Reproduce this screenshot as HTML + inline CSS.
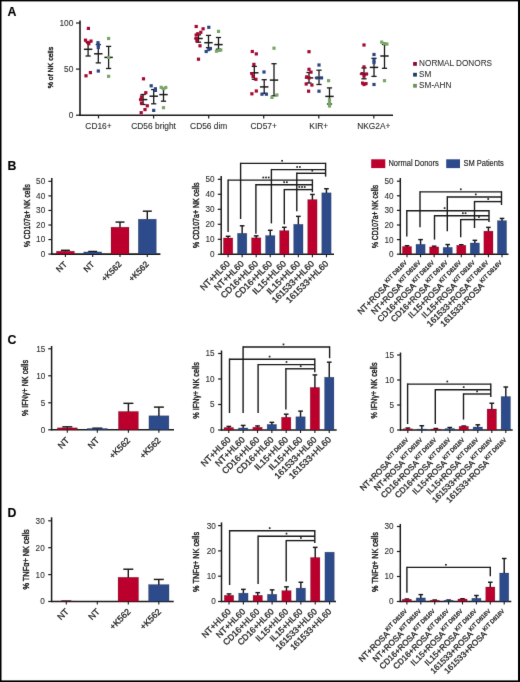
<!DOCTYPE html>
<html><head><meta charset="utf-8"><style>
html,body{margin:0;padding:0;background:#fff;}
svg{display:block;font-family:"Liberation Sans", sans-serif;}
text{stroke:#2a2a2a;stroke-width:0.16px;}
</style></head><body>
<svg width="520" height="682" viewBox="0 0 520 682">
<defs><filter id="soft" filterUnits="userSpaceOnUse" x="-10" y="-10" width="540" height="702" color-interpolation-filters="sRGB"><feConvolveMatrix order="3" kernelMatrix="0.00524 0.06192 0.00524 0.06192 0.73137 0.06192 0.00524 0.06192 0.00524" divisor="1" edgeMode="duplicate"/></filter></defs>
<rect x="0" y="0" width="520" height="682" fill="#fff"/>
<g filter="url(#soft)">
<rect x="-6" y="-6" width="532" height="7.4" fill="#000"/>
<rect x="-6" y="680.4" width="532" height="7.6" fill="#000"/>
<rect x="-6" y="-6" width="7.5" height="694" fill="#000"/>
<rect x="518" y="-6" width="8" height="694" fill="#000"/>
<text x="7.6" y="16.2" font-size="12.3" text-anchor="start" fill="#000" font-weight="bold" >A</text>
<text x="7.6" y="169.8" font-size="12.3" text-anchor="start" fill="#000" font-weight="bold" >B</text>
<text x="7.6" y="343.8" font-size="12.3" text-anchor="start" fill="#000" font-weight="bold" >C</text>
<text x="7.6" y="517.3" font-size="12.3" text-anchor="start" fill="#000" font-weight="bold" >D</text>
<line x1="80" y1="20.5" x2="80" y2="115.9" stroke="#1a1a1a" stroke-width="1.6"/>
<line x1="79.3" y1="115.2" x2="393" y2="115.2" stroke="#1a1a1a" stroke-width="1.6"/>
<line x1="76" y1="115.2" x2="80" y2="115.2" stroke="#1a1a1a" stroke-width="1.2"/>
<text x="73.4" y="118.2" font-size="8.4" text-anchor="end" fill="#303030" font-weight="normal" style="stroke:#303030;stroke-width:0.1px">0</text>
<line x1="76" y1="69.1" x2="80" y2="69.1" stroke="#1a1a1a" stroke-width="1.2"/>
<text x="73.4" y="72.1" font-size="8.4" text-anchor="end" fill="#303030" font-weight="normal" style="stroke:#303030;stroke-width:0.1px">50</text>
<line x1="76" y1="23" x2="80" y2="23" stroke="#1a1a1a" stroke-width="1.2"/>
<text x="73.4" y="26" font-size="8.4" text-anchor="end" fill="#303030" font-weight="normal" style="stroke:#303030;stroke-width:0.1px">100</text>
<text transform="translate(53.0,67.6) rotate(-90)" font-size="7.6" text-anchor="middle" fill="#222" style="stroke:#1e1e1e;stroke-width:0.42px" textLength="41.5" lengthAdjust="spacingAndGlyphs">% of NK cells</text>
<line x1="98.5" y1="115.2" x2="98.5" y2="118.4" stroke="#1a1a1a" stroke-width="1.2"/>
<text x="98.5" y="129.2" font-size="8.4" text-anchor="middle" fill="#2a2a2a" font-weight="normal" style="stroke-width:0.08px">CD16+</text>
<line x1="153.6" y1="115.2" x2="153.6" y2="118.4" stroke="#1a1a1a" stroke-width="1.2"/>
<text x="153.6" y="129.2" font-size="8.4" text-anchor="middle" fill="#2a2a2a" font-weight="normal" style="stroke-width:0.08px">CD56 bright</text>
<line x1="208.7" y1="115.2" x2="208.7" y2="118.4" stroke="#1a1a1a" stroke-width="1.2"/>
<text x="208.7" y="129.2" font-size="8.4" text-anchor="middle" fill="#2a2a2a" font-weight="normal" style="stroke-width:0.08px">CD56 dim</text>
<line x1="263.7" y1="115.2" x2="263.7" y2="118.4" stroke="#1a1a1a" stroke-width="1.2"/>
<text x="263.7" y="129.2" font-size="8.4" text-anchor="middle" fill="#2a2a2a" font-weight="normal" style="stroke-width:0.08px">CD57+</text>
<line x1="318.8" y1="115.2" x2="318.8" y2="118.4" stroke="#1a1a1a" stroke-width="1.2"/>
<text x="318.8" y="129.2" font-size="8.4" text-anchor="middle" fill="#2a2a2a" font-weight="normal" style="stroke-width:0.08px">KIR+</text>
<line x1="373.8" y1="115.2" x2="373.8" y2="118.4" stroke="#1a1a1a" stroke-width="1.2"/>
<text x="373.8" y="129.2" font-size="8.4" text-anchor="middle" fill="#2a2a2a" font-weight="normal" style="stroke-width:0.08px">NKG2A+</text>
<line x1="88.1" y1="42.4" x2="88.1" y2="56" stroke="#1a1a1a" stroke-width="1.3"/>
<line x1="85.5" y1="42.4" x2="90.7" y2="42.4" stroke="#1a1a1a" stroke-width="1.3"/>
<line x1="85.5" y1="56" x2="90.7" y2="56" stroke="#1a1a1a" stroke-width="1.3"/>
<line x1="83.9" y1="49.3" x2="92.3" y2="49.3" stroke="#1a1a1a" stroke-width="1.5"/>
<line x1="98.3" y1="44.6" x2="98.3" y2="62.9" stroke="#1a1a1a" stroke-width="1.3"/>
<line x1="95.7" y1="44.6" x2="100.9" y2="44.6" stroke="#1a1a1a" stroke-width="1.3"/>
<line x1="95.7" y1="62.9" x2="100.9" y2="62.9" stroke="#1a1a1a" stroke-width="1.3"/>
<line x1="94.1" y1="53.8" x2="102.5" y2="53.8" stroke="#1a1a1a" stroke-width="1.5"/>
<line x1="108.6" y1="46.4" x2="108.6" y2="68.5" stroke="#1a1a1a" stroke-width="1.3"/>
<line x1="106" y1="46.4" x2="111.2" y2="46.4" stroke="#1a1a1a" stroke-width="1.3"/>
<line x1="106" y1="68.5" x2="111.2" y2="68.5" stroke="#1a1a1a" stroke-width="1.3"/>
<line x1="104.4" y1="57.4" x2="112.8" y2="57.4" stroke="#1a1a1a" stroke-width="1.5"/>
<line x1="143.1" y1="94.5" x2="143.1" y2="104.5" stroke="#1a1a1a" stroke-width="1.3"/>
<line x1="140.5" y1="94.5" x2="145.7" y2="94.5" stroke="#1a1a1a" stroke-width="1.3"/>
<line x1="140.5" y1="104.5" x2="145.7" y2="104.5" stroke="#1a1a1a" stroke-width="1.3"/>
<line x1="138.9" y1="99.6" x2="147.3" y2="99.6" stroke="#1a1a1a" stroke-width="1.5"/>
<line x1="153.7" y1="89.6" x2="153.7" y2="103.8" stroke="#1a1a1a" stroke-width="1.3"/>
<line x1="151.1" y1="89.6" x2="156.3" y2="89.6" stroke="#1a1a1a" stroke-width="1.3"/>
<line x1="151.1" y1="103.8" x2="156.3" y2="103.8" stroke="#1a1a1a" stroke-width="1.3"/>
<line x1="149.5" y1="96.2" x2="157.9" y2="96.2" stroke="#1a1a1a" stroke-width="1.5"/>
<line x1="163.5" y1="88.5" x2="163.5" y2="101.2" stroke="#1a1a1a" stroke-width="1.3"/>
<line x1="160.9" y1="88.5" x2="166.1" y2="88.5" stroke="#1a1a1a" stroke-width="1.3"/>
<line x1="160.9" y1="101.2" x2="166.1" y2="101.2" stroke="#1a1a1a" stroke-width="1.3"/>
<line x1="159.3" y1="94.6" x2="167.7" y2="94.6" stroke="#1a1a1a" stroke-width="1.5"/>
<line x1="198.5" y1="34.8" x2="198.5" y2="42.2" stroke="#1a1a1a" stroke-width="1.3"/>
<line x1="195.9" y1="34.8" x2="201.1" y2="34.8" stroke="#1a1a1a" stroke-width="1.3"/>
<line x1="195.9" y1="42.2" x2="201.1" y2="42.2" stroke="#1a1a1a" stroke-width="1.3"/>
<line x1="194.3" y1="38.5" x2="202.7" y2="38.5" stroke="#1a1a1a" stroke-width="1.5"/>
<line x1="208.5" y1="35.4" x2="208.5" y2="47.7" stroke="#1a1a1a" stroke-width="1.3"/>
<line x1="205.9" y1="35.4" x2="211.1" y2="35.4" stroke="#1a1a1a" stroke-width="1.3"/>
<line x1="205.9" y1="47.7" x2="211.1" y2="47.7" stroke="#1a1a1a" stroke-width="1.3"/>
<line x1="204.3" y1="42.7" x2="212.7" y2="42.7" stroke="#1a1a1a" stroke-width="1.5"/>
<line x1="218.5" y1="37.5" x2="218.5" y2="49.2" stroke="#1a1a1a" stroke-width="1.3"/>
<line x1="215.9" y1="37.5" x2="221.1" y2="37.5" stroke="#1a1a1a" stroke-width="1.3"/>
<line x1="215.9" y1="49.2" x2="221.1" y2="49.2" stroke="#1a1a1a" stroke-width="1.3"/>
<line x1="214.3" y1="44.6" x2="222.7" y2="44.6" stroke="#1a1a1a" stroke-width="1.5"/>
<line x1="254.3" y1="66.4" x2="254.3" y2="79.3" stroke="#1a1a1a" stroke-width="1.3"/>
<line x1="251.7" y1="66.4" x2="256.9" y2="66.4" stroke="#1a1a1a" stroke-width="1.3"/>
<line x1="251.7" y1="79.3" x2="256.9" y2="79.3" stroke="#1a1a1a" stroke-width="1.3"/>
<line x1="250.1" y1="72.8" x2="258.5" y2="72.8" stroke="#1a1a1a" stroke-width="1.5"/>
<line x1="264.2" y1="79.7" x2="264.2" y2="93.4" stroke="#1a1a1a" stroke-width="1.3"/>
<line x1="261.6" y1="79.7" x2="266.8" y2="79.7" stroke="#1a1a1a" stroke-width="1.3"/>
<line x1="261.6" y1="93.4" x2="266.8" y2="93.4" stroke="#1a1a1a" stroke-width="1.3"/>
<line x1="260" y1="86.9" x2="268.4" y2="86.9" stroke="#1a1a1a" stroke-width="1.5"/>
<line x1="274" y1="63.7" x2="274" y2="95.8" stroke="#1a1a1a" stroke-width="1.3"/>
<line x1="271.4" y1="63.7" x2="276.6" y2="63.7" stroke="#1a1a1a" stroke-width="1.3"/>
<line x1="271.4" y1="95.8" x2="276.6" y2="95.8" stroke="#1a1a1a" stroke-width="1.3"/>
<line x1="269.8" y1="80.1" x2="278.2" y2="80.1" stroke="#1a1a1a" stroke-width="1.5"/>
<line x1="309" y1="72.5" x2="309" y2="83" stroke="#1a1a1a" stroke-width="1.3"/>
<line x1="306.4" y1="72.5" x2="311.6" y2="72.5" stroke="#1a1a1a" stroke-width="1.3"/>
<line x1="306.4" y1="83" x2="311.6" y2="83" stroke="#1a1a1a" stroke-width="1.3"/>
<line x1="304.8" y1="77.9" x2="313.2" y2="77.9" stroke="#1a1a1a" stroke-width="1.5"/>
<line x1="319" y1="70.2" x2="319" y2="84.5" stroke="#1a1a1a" stroke-width="1.3"/>
<line x1="316.4" y1="70.2" x2="321.6" y2="70.2" stroke="#1a1a1a" stroke-width="1.3"/>
<line x1="316.4" y1="84.5" x2="321.6" y2="84.5" stroke="#1a1a1a" stroke-width="1.3"/>
<line x1="314.8" y1="77.9" x2="323.2" y2="77.9" stroke="#1a1a1a" stroke-width="1.5"/>
<line x1="329.5" y1="87.9" x2="329.5" y2="104" stroke="#1a1a1a" stroke-width="1.3"/>
<line x1="326.9" y1="87.9" x2="332.1" y2="87.9" stroke="#1a1a1a" stroke-width="1.3"/>
<line x1="326.9" y1="104" x2="332.1" y2="104" stroke="#1a1a1a" stroke-width="1.3"/>
<line x1="325.3" y1="96.4" x2="333.7" y2="96.4" stroke="#1a1a1a" stroke-width="1.5"/>
<line x1="364" y1="67.9" x2="364" y2="78.8" stroke="#1a1a1a" stroke-width="1.3"/>
<line x1="361.4" y1="67.9" x2="366.6" y2="67.9" stroke="#1a1a1a" stroke-width="1.3"/>
<line x1="361.4" y1="78.8" x2="366.6" y2="78.8" stroke="#1a1a1a" stroke-width="1.3"/>
<line x1="359.8" y1="74" x2="368.2" y2="74" stroke="#1a1a1a" stroke-width="1.5"/>
<line x1="374" y1="58.3" x2="374" y2="76.4" stroke="#1a1a1a" stroke-width="1.3"/>
<line x1="371.4" y1="58.3" x2="376.6" y2="58.3" stroke="#1a1a1a" stroke-width="1.3"/>
<line x1="371.4" y1="76.4" x2="376.6" y2="76.4" stroke="#1a1a1a" stroke-width="1.3"/>
<line x1="369.8" y1="67.4" x2="378.2" y2="67.4" stroke="#1a1a1a" stroke-width="1.5"/>
<line x1="384.5" y1="44.5" x2="384.5" y2="68.3" stroke="#1a1a1a" stroke-width="1.3"/>
<line x1="381.9" y1="44.5" x2="387.1" y2="44.5" stroke="#1a1a1a" stroke-width="1.3"/>
<line x1="381.9" y1="68.3" x2="387.1" y2="68.3" stroke="#1a1a1a" stroke-width="1.3"/>
<line x1="380.3" y1="56" x2="388.7" y2="56" stroke="#1a1a1a" stroke-width="1.5"/>
<rect x="86.8" y="26.8" width="3.2" height="3.2" fill="#a5072f"/>
<rect x="83.9" y="38.6" width="3.2" height="3.2" fill="#a5072f"/>
<rect x="86.3" y="40.8" width="3.2" height="3.2" fill="#a5072f"/>
<rect x="89.4" y="39.5" width="3.2" height="3.2" fill="#a5072f"/>
<rect x="87.2" y="42.1" width="3.2" height="3.2" fill="#a5072f"/>
<rect x="88.8" y="71" width="3.2" height="3.2" fill="#a5072f"/>
<rect x="84.4" y="74.2" width="3.2" height="3.2" fill="#a5072f"/>
<rect x="141.9" y="77.2" width="3.2" height="3.2" fill="#a5072f"/>
<rect x="144.2" y="91.1" width="3.2" height="3.2" fill="#a5072f"/>
<rect x="139.9" y="95.3" width="3.2" height="3.2" fill="#a5072f"/>
<rect x="139.2" y="98" width="3.2" height="3.2" fill="#a5072f"/>
<rect x="139.9" y="101.5" width="3.2" height="3.2" fill="#a5072f"/>
<rect x="145.7" y="104.2" width="3.2" height="3.2" fill="#a5072f"/>
<rect x="143.4" y="108" width="3.2" height="3.2" fill="#a5072f"/>
<rect x="139.6" y="111.1" width="3.2" height="3.2" fill="#a5072f"/>
<rect x="194.6" y="24.9" width="3.2" height="3.2" fill="#a5072f"/>
<rect x="201.5" y="27.2" width="3.2" height="3.2" fill="#a5072f"/>
<rect x="199.2" y="30.7" width="3.2" height="3.2" fill="#a5072f"/>
<rect x="194.6" y="33.4" width="3.2" height="3.2" fill="#a5072f"/>
<rect x="196.1" y="32.2" width="3.2" height="3.2" fill="#a5072f"/>
<rect x="194.6" y="36.9" width="3.2" height="3.2" fill="#a5072f"/>
<rect x="195.3" y="39.2" width="3.2" height="3.2" fill="#a5072f"/>
<rect x="198.4" y="44.2" width="3.2" height="3.2" fill="#a5072f"/>
<rect x="196.9" y="57.6" width="3.2" height="3.2" fill="#a5072f"/>
<rect x="250.7" y="49.9" width="3.2" height="3.2" fill="#a5072f"/>
<rect x="254.7" y="52.3" width="3.2" height="3.2" fill="#a5072f"/>
<rect x="252.3" y="62.8" width="3.2" height="3.2" fill="#a5072f"/>
<rect x="250.3" y="72" width="3.2" height="3.2" fill="#a5072f"/>
<rect x="251.5" y="74.9" width="3.2" height="3.2" fill="#a5072f"/>
<rect x="254.3" y="77.7" width="3.2" height="3.2" fill="#a5072f"/>
<rect x="250.3" y="92.2" width="3.2" height="3.2" fill="#a5072f"/>
<rect x="254.7" y="89.4" width="3.2" height="3.2" fill="#a5072f"/>
<rect x="307.4" y="50.1" width="3.2" height="3.2" fill="#a5072f"/>
<rect x="307.4" y="67.7" width="3.2" height="3.2" fill="#a5072f"/>
<rect x="309.4" y="70.5" width="3.2" height="3.2" fill="#a5072f"/>
<rect x="305.1" y="75.3" width="3.2" height="3.2" fill="#a5072f"/>
<rect x="307.4" y="76.3" width="3.2" height="3.2" fill="#a5072f"/>
<rect x="304.6" y="82.4" width="3.2" height="3.2" fill="#a5072f"/>
<rect x="310.3" y="83.4" width="3.2" height="3.2" fill="#a5072f"/>
<rect x="307" y="89.6" width="3.2" height="3.2" fill="#a5072f"/>
<rect x="362.4" y="43.4" width="3.2" height="3.2" fill="#a5072f"/>
<rect x="362.4" y="65.3" width="3.2" height="3.2" fill="#a5072f"/>
<rect x="360.5" y="72" width="3.2" height="3.2" fill="#a5072f"/>
<rect x="364.8" y="72.4" width="3.2" height="3.2" fill="#a5072f"/>
<rect x="362.4" y="74.4" width="3.2" height="3.2" fill="#a5072f"/>
<rect x="361" y="81.5" width="3.2" height="3.2" fill="#a5072f"/>
<rect x="364.4" y="82" width="3.2" height="3.2" fill="#a5072f"/>
<rect x="362.4" y="82.9" width="3.2" height="3.2" fill="#a5072f"/>
<rect x="96.4" y="41.1" width="3.2" height="3.2" fill="#2a4581"/>
<rect x="96.7" y="43.4" width="3.2" height="3.2" fill="#2a4581"/>
<rect x="96.7" y="45.9" width="3.2" height="3.2" fill="#2a4581"/>
<rect x="96.7" y="69.4" width="3.2" height="3.2" fill="#2a4581"/>
<rect x="149.6" y="84.2" width="3.2" height="3.2" fill="#2a4581"/>
<rect x="153.8" y="87.2" width="3.2" height="3.2" fill="#2a4581"/>
<rect x="153.8" y="88.8" width="3.2" height="3.2" fill="#2a4581"/>
<rect x="152.1" y="108.8" width="3.2" height="3.2" fill="#2a4581"/>
<rect x="207.2" y="25.7" width="3.2" height="3.2" fill="#2a4581"/>
<rect x="208.8" y="46.9" width="3.2" height="3.2" fill="#2a4581"/>
<rect x="207.2" y="48" width="3.2" height="3.2" fill="#2a4581"/>
<rect x="204.6" y="49.9" width="3.2" height="3.2" fill="#2a4581"/>
<rect x="262.4" y="70.4" width="3.2" height="3.2" fill="#2a4581"/>
<rect x="260.4" y="92.6" width="3.2" height="3.2" fill="#2a4581"/>
<rect x="264.8" y="92.6" width="3.2" height="3.2" fill="#2a4581"/>
<rect x="317.4" y="63.4" width="3.2" height="3.2" fill="#2a4581"/>
<rect x="315.5" y="76.3" width="3.2" height="3.2" fill="#2a4581"/>
<rect x="319.8" y="76.3" width="3.2" height="3.2" fill="#2a4581"/>
<rect x="317.4" y="89.6" width="3.2" height="3.2" fill="#2a4581"/>
<rect x="372.4" y="52.9" width="3.2" height="3.2" fill="#2a4581"/>
<rect x="372.4" y="58.6" width="3.2" height="3.2" fill="#2a4581"/>
<rect x="372.4" y="61" width="3.2" height="3.2" fill="#2a4581"/>
<rect x="372.4" y="82.9" width="3.2" height="3.2" fill="#2a4581"/>
<rect x="107" y="36.9" width="3.2" height="3.2" fill="#7aa566"/>
<rect x="107" y="55.8" width="3.2" height="3.2" fill="#7aa566"/>
<rect x="107" y="74.7" width="3.2" height="3.2" fill="#7aa566"/>
<rect x="159.6" y="85.7" width="3.2" height="3.2" fill="#7aa566"/>
<rect x="164.2" y="85.9" width="3.2" height="3.2" fill="#7aa566"/>
<rect x="161.9" y="87.2" width="3.2" height="3.2" fill="#7aa566"/>
<rect x="161.9" y="106.1" width="3.2" height="3.2" fill="#7aa566"/>
<rect x="216.9" y="29.8" width="3.2" height="3.2" fill="#7aa566"/>
<rect x="214.9" y="49.6" width="3.2" height="3.2" fill="#7aa566"/>
<rect x="217.6" y="48.8" width="3.2" height="3.2" fill="#7aa566"/>
<rect x="219.2" y="48.4" width="3.2" height="3.2" fill="#7aa566"/>
<rect x="272.4" y="46.6" width="3.2" height="3.2" fill="#7aa566"/>
<rect x="270.4" y="95.8" width="3.2" height="3.2" fill="#7aa566"/>
<rect x="275.3" y="93.4" width="3.2" height="3.2" fill="#7aa566"/>
<rect x="327" y="79.1" width="3.2" height="3.2" fill="#7aa566"/>
<rect x="327.9" y="98.2" width="3.2" height="3.2" fill="#7aa566"/>
<rect x="327.9" y="101.5" width="3.2" height="3.2" fill="#7aa566"/>
<rect x="327.9" y="104.4" width="3.2" height="3.2" fill="#7aa566"/>
<rect x="380.1" y="40.5" width="3.2" height="3.2" fill="#7aa566"/>
<rect x="385.3" y="42.4" width="3.2" height="3.2" fill="#7aa566"/>
<rect x="382.9" y="42" width="3.2" height="3.2" fill="#7aa566"/>
<rect x="382.9" y="79.1" width="3.2" height="3.2" fill="#7aa566"/>
<rect x="413.1" y="62" width="3.8" height="3.8" fill="#8e0a2c"/>
<text x="419.1" y="66.3" font-size="8.2" text-anchor="start" fill="#2a2a2a" font-weight="normal" style="stroke-width:0.05px">NORMAL DONORS</text>
<rect x="413.1" y="72.8" width="3.8" height="3.8" fill="#223d63"/>
<text x="419.1" y="77.1" font-size="8.2" text-anchor="start" fill="#2a2a2a" font-weight="normal" style="stroke-width:0.05px">SM</text>
<rect x="413.1" y="83.9" width="3.8" height="3.8" fill="#6f9160"/>
<text x="419.1" y="88.2" font-size="8.2" text-anchor="start" fill="#2a2a2a" font-weight="normal" style="stroke-width:0.05px">SM-AHN</text>
<line x1="51.8" y1="178" x2="51.8" y2="254.7" stroke="#1a1a1a" stroke-width="1.5"/>
<line x1="48.4" y1="254.1" x2="51.8" y2="254.1" stroke="#1a1a1a" stroke-width="1.2"/>
<text x="45.2" y="257" font-size="8.2" text-anchor="end" fill="#303030" font-weight="normal" style="stroke:#303030;stroke-width:0.1px">0</text>
<line x1="48.4" y1="239.55" x2="51.8" y2="239.55" stroke="#1a1a1a" stroke-width="1.2"/>
<text x="45.2" y="242.45" font-size="8.2" text-anchor="end" fill="#303030" font-weight="normal" style="stroke:#303030;stroke-width:0.1px">10</text>
<line x1="48.4" y1="225" x2="51.8" y2="225" stroke="#1a1a1a" stroke-width="1.2"/>
<text x="45.2" y="227.9" font-size="8.2" text-anchor="end" fill="#303030" font-weight="normal" style="stroke:#303030;stroke-width:0.1px">20</text>
<line x1="48.4" y1="210.45" x2="51.8" y2="210.45" stroke="#1a1a1a" stroke-width="1.2"/>
<text x="45.2" y="213.35" font-size="8.2" text-anchor="end" fill="#303030" font-weight="normal" style="stroke:#303030;stroke-width:0.1px">30</text>
<line x1="48.4" y1="195.9" x2="51.8" y2="195.9" stroke="#1a1a1a" stroke-width="1.2"/>
<text x="45.2" y="198.8" font-size="8.2" text-anchor="end" fill="#303030" font-weight="normal" style="stroke:#303030;stroke-width:0.1px">40</text>
<line x1="48.4" y1="181.35" x2="51.8" y2="181.35" stroke="#1a1a1a" stroke-width="1.2"/>
<text x="45.2" y="184.25" font-size="8.2" text-anchor="end" fill="#303030" font-weight="normal" style="stroke:#303030;stroke-width:0.1px">50</text>
<text transform="translate(29.72,215.6) rotate(-90)" font-size="8.4" text-anchor="middle" fill="#222" style="stroke:#1e1e1e;stroke-width:0.42px" textLength="63" lengthAdjust="spacingAndGlyphs">% CD107a+ NK cells</text>
<line x1="51.1" y1="254.1" x2="160.4" y2="254.1" stroke="#1a1a1a" stroke-width="1.6"/>
<line x1="65.4" y1="250.32" x2="65.4" y2="251.69" stroke="#1a1a1a" stroke-width="1.45"/>
<line x1="60.9" y1="250.32" x2="69.9" y2="250.32" stroke="#1a1a1a" stroke-width="1.45"/>
<rect x="56.4" y="251.19" width="18" height="2.91" fill="#bb002d" stroke="#000" stroke-opacity="0.28" stroke-width="0.6"/>
<line x1="65.4" y1="254.1" x2="65.4" y2="257.1" stroke="#1a1a1a" stroke-width="1.1"/>
<line x1="92.7" y1="251.48" x2="92.7" y2="252.42" stroke="#1a1a1a" stroke-width="1.45"/>
<line x1="88.2" y1="251.48" x2="97.2" y2="251.48" stroke="#1a1a1a" stroke-width="1.45"/>
<rect x="83.7" y="251.92" width="18" height="2.18" fill="#2d4b8a" stroke="#000" stroke-opacity="0.28" stroke-width="0.6"/>
<line x1="92.7" y1="254.1" x2="92.7" y2="257.1" stroke="#1a1a1a" stroke-width="1.1"/>
<line x1="120" y1="222.09" x2="120" y2="227.68" stroke="#1a1a1a" stroke-width="1.45"/>
<line x1="115.5" y1="222.09" x2="124.5" y2="222.09" stroke="#1a1a1a" stroke-width="1.45"/>
<rect x="111" y="227.18" width="18" height="26.92" fill="#bb002d" stroke="#000" stroke-opacity="0.28" stroke-width="0.6"/>
<line x1="120" y1="254.1" x2="120" y2="257.1" stroke="#1a1a1a" stroke-width="1.1"/>
<line x1="147.3" y1="211.18" x2="147.3" y2="219.68" stroke="#1a1a1a" stroke-width="1.45"/>
<line x1="142.8" y1="211.18" x2="151.8" y2="211.18" stroke="#1a1a1a" stroke-width="1.45"/>
<rect x="138.3" y="219.18" width="18" height="34.92" fill="#2d4b8a" stroke="#000" stroke-opacity="0.28" stroke-width="0.6"/>
<line x1="147.3" y1="254.1" x2="147.3" y2="257.1" stroke="#1a1a1a" stroke-width="1.1"/>
<text transform="translate(67.5,264.8) rotate(-45)" font-size="8.4" text-anchor="end" fill="#1e1e1e" style="stroke:#1e1e1e;stroke-width:0.3px">NT</text>
<text transform="translate(94.8,264.8) rotate(-45)" font-size="8.4" text-anchor="end" fill="#1e1e1e" style="stroke:#1e1e1e;stroke-width:0.3px">NT</text>
<text transform="translate(122.1,264.8) rotate(-45)" font-size="8.4" text-anchor="end" fill="#1e1e1e" style="stroke:#1e1e1e;stroke-width:0.3px">+K562</text>
<text transform="translate(149.4,264.8) rotate(-45)" font-size="8.4" text-anchor="end" fill="#1e1e1e" style="stroke:#1e1e1e;stroke-width:0.3px">+K562</text>
<line x1="221.2" y1="176.1" x2="221.2" y2="254.9" stroke="#1a1a1a" stroke-width="1.5"/>
<line x1="217.8" y1="254.3" x2="221.2" y2="254.3" stroke="#1a1a1a" stroke-width="1.2"/>
<text x="214.6" y="257.2" font-size="8.2" text-anchor="end" fill="#303030" font-weight="normal" style="stroke:#303030;stroke-width:0.1px">0</text>
<line x1="217.8" y1="239.3" x2="221.2" y2="239.3" stroke="#1a1a1a" stroke-width="1.2"/>
<text x="214.6" y="242.2" font-size="8.2" text-anchor="end" fill="#303030" font-weight="normal" style="stroke:#303030;stroke-width:0.1px">10</text>
<line x1="217.8" y1="224.3" x2="221.2" y2="224.3" stroke="#1a1a1a" stroke-width="1.2"/>
<text x="214.6" y="227.2" font-size="8.2" text-anchor="end" fill="#303030" font-weight="normal" style="stroke:#303030;stroke-width:0.1px">20</text>
<line x1="217.8" y1="209.3" x2="221.2" y2="209.3" stroke="#1a1a1a" stroke-width="1.2"/>
<text x="214.6" y="212.2" font-size="8.2" text-anchor="end" fill="#303030" font-weight="normal" style="stroke:#303030;stroke-width:0.1px">30</text>
<line x1="217.8" y1="194.3" x2="221.2" y2="194.3" stroke="#1a1a1a" stroke-width="1.2"/>
<text x="214.6" y="197.2" font-size="8.2" text-anchor="end" fill="#303030" font-weight="normal" style="stroke:#303030;stroke-width:0.1px">40</text>
<line x1="217.8" y1="179.3" x2="221.2" y2="179.3" stroke="#1a1a1a" stroke-width="1.2"/>
<text x="214.6" y="182.2" font-size="8.2" text-anchor="end" fill="#303030" font-weight="normal" style="stroke:#303030;stroke-width:0.1px">50</text>
<text transform="translate(198.5,215.2) rotate(-90)" font-size="8.6" text-anchor="middle" fill="#222" style="stroke:#1e1e1e;stroke-width:0.42px" textLength="65.4" lengthAdjust="spacingAndGlyphs">% CD107a+ NK cells</text>
<line x1="240.6" y1="163.4" x2="325.6" y2="163.4" stroke="#1a1a1a" stroke-width="1.4"/>
<line x1="240.6" y1="162.7" x2="240.6" y2="219" stroke="#1a1a1a" stroke-width="1.4"/>
<rect x="281.25" y="159.95" width="1.7" height="1.7" fill="#222"/>
<line x1="271.4" y1="169.6" x2="325.6" y2="169.6" stroke="#1a1a1a" stroke-width="1.4"/>
<line x1="271.4" y1="168.9" x2="271.4" y2="223.4" stroke="#1a1a1a" stroke-width="1.4"/>
<rect x="296.3" y="166.15" width="1.7" height="1.7" fill="#222"/>
<rect x="299" y="166.15" width="1.7" height="1.7" fill="#222"/>
<line x1="296.8" y1="173.3" x2="325.6" y2="173.3" stroke="#1a1a1a" stroke-width="1.4"/>
<line x1="296.8" y1="172.6" x2="296.8" y2="211.2" stroke="#1a1a1a" stroke-width="1.4"/>
<rect x="311.45" y="169.85" width="1.7" height="1.7" fill="#222"/>
<line x1="228.1" y1="180.1" x2="312.4" y2="180.1" stroke="#1a1a1a" stroke-width="1.4"/>
<line x1="228.1" y1="179.4" x2="228.1" y2="232" stroke="#1a1a1a" stroke-width="1.4"/>
<rect x="262.45" y="176.65" width="1.7" height="1.7" fill="#222"/>
<rect x="265.15" y="176.65" width="1.7" height="1.7" fill="#222"/>
<rect x="267.85" y="176.65" width="1.7" height="1.7" fill="#222"/>
<line x1="255.9" y1="184.8" x2="312.4" y2="184.8" stroke="#1a1a1a" stroke-width="1.4"/>
<line x1="255.9" y1="184.1" x2="255.9" y2="233.7" stroke="#1a1a1a" stroke-width="1.4"/>
<rect x="283.3" y="181.35" width="1.7" height="1.7" fill="#222"/>
<rect x="286" y="181.35" width="1.7" height="1.7" fill="#222"/>
<line x1="284.3" y1="189.6" x2="312.4" y2="189.6" stroke="#1a1a1a" stroke-width="1.4"/>
<line x1="284.3" y1="188.9" x2="284.3" y2="224.2" stroke="#1a1a1a" stroke-width="1.4"/>
<rect x="298.45" y="186.15" width="1.7" height="1.7" fill="#222"/>
<rect x="301.15" y="186.15" width="1.7" height="1.7" fill="#222"/>
<rect x="303.85" y="186.15" width="1.7" height="1.7" fill="#222"/>
<line x1="325.6" y1="162.7" x2="325.6" y2="176.6" stroke="#1a1a1a" stroke-width="1.4"/>
<line x1="312.4" y1="179.4" x2="312.4" y2="192.2" stroke="#1a1a1a" stroke-width="1.4"/>
<line x1="220.5" y1="254.3" x2="334" y2="254.3" stroke="#1a1a1a" stroke-width="1.6"/>
<line x1="228.1" y1="236.3" x2="228.1" y2="238.45" stroke="#1a1a1a" stroke-width="1.45"/>
<line x1="225.75" y1="236.3" x2="230.45" y2="236.3" stroke="#1a1a1a" stroke-width="1.45"/>
<rect x="223.4" y="237.95" width="9.4" height="16.35" fill="#bb002d" stroke="#000" stroke-opacity="0.28" stroke-width="0.6"/>
<line x1="228.1" y1="254.3" x2="228.1" y2="257.3" stroke="#1a1a1a" stroke-width="1.1"/>
<line x1="242.15" y1="225.8" x2="242.15" y2="233.8" stroke="#1a1a1a" stroke-width="1.45"/>
<line x1="239.8" y1="225.8" x2="244.5" y2="225.8" stroke="#1a1a1a" stroke-width="1.45"/>
<rect x="237.45" y="233.3" width="9.4" height="21" fill="#2d4b8a" stroke="#000" stroke-opacity="0.28" stroke-width="0.6"/>
<line x1="242.15" y1="254.3" x2="242.15" y2="257.3" stroke="#1a1a1a" stroke-width="1.1"/>
<line x1="256.2" y1="235.85" x2="256.2" y2="238.3" stroke="#1a1a1a" stroke-width="1.45"/>
<line x1="253.85" y1="235.85" x2="258.55" y2="235.85" stroke="#1a1a1a" stroke-width="1.45"/>
<rect x="251.5" y="237.8" width="9.4" height="16.5" fill="#bb002d" stroke="#000" stroke-opacity="0.28" stroke-width="0.6"/>
<line x1="256.2" y1="254.3" x2="256.2" y2="257.3" stroke="#1a1a1a" stroke-width="1.1"/>
<line x1="270.25" y1="230.3" x2="270.25" y2="236.05" stroke="#1a1a1a" stroke-width="1.45"/>
<line x1="267.9" y1="230.3" x2="272.6" y2="230.3" stroke="#1a1a1a" stroke-width="1.45"/>
<rect x="265.55" y="235.55" width="9.4" height="18.75" fill="#2d4b8a" stroke="#000" stroke-opacity="0.28" stroke-width="0.6"/>
<line x1="270.25" y1="254.3" x2="270.25" y2="257.3" stroke="#1a1a1a" stroke-width="1.1"/>
<line x1="284.3" y1="227.3" x2="284.3" y2="231.1" stroke="#1a1a1a" stroke-width="1.45"/>
<line x1="281.95" y1="227.3" x2="286.65" y2="227.3" stroke="#1a1a1a" stroke-width="1.45"/>
<rect x="279.6" y="230.6" width="9.4" height="23.7" fill="#bb002d" stroke="#000" stroke-opacity="0.28" stroke-width="0.6"/>
<line x1="284.3" y1="254.3" x2="284.3" y2="257.3" stroke="#1a1a1a" stroke-width="1.1"/>
<line x1="298.35" y1="216.35" x2="298.35" y2="224.8" stroke="#1a1a1a" stroke-width="1.45"/>
<line x1="296" y1="216.35" x2="300.7" y2="216.35" stroke="#1a1a1a" stroke-width="1.45"/>
<rect x="293.65" y="224.3" width="9.4" height="30" fill="#2d4b8a" stroke="#000" stroke-opacity="0.28" stroke-width="0.6"/>
<line x1="298.35" y1="254.3" x2="298.35" y2="257.3" stroke="#1a1a1a" stroke-width="1.1"/>
<line x1="312.4" y1="194.45" x2="312.4" y2="200.05" stroke="#1a1a1a" stroke-width="1.45"/>
<line x1="310.05" y1="194.45" x2="314.75" y2="194.45" stroke="#1a1a1a" stroke-width="1.45"/>
<rect x="307.7" y="199.55" width="9.4" height="54.75" fill="#bb002d" stroke="#000" stroke-opacity="0.28" stroke-width="0.6"/>
<line x1="312.4" y1="254.3" x2="312.4" y2="257.3" stroke="#1a1a1a" stroke-width="1.1"/>
<line x1="326.45" y1="188.75" x2="326.45" y2="193.3" stroke="#1a1a1a" stroke-width="1.45"/>
<line x1="324.1" y1="188.75" x2="328.8" y2="188.75" stroke="#1a1a1a" stroke-width="1.45"/>
<rect x="321.75" y="192.8" width="9.4" height="61.5" fill="#2d4b8a" stroke="#000" stroke-opacity="0.28" stroke-width="0.6"/>
<line x1="326.45" y1="254.3" x2="326.45" y2="257.3" stroke="#1a1a1a" stroke-width="1.1"/>
<text transform="translate(230.5,264.3) rotate(-45)" font-size="8.8" text-anchor="end" fill="#1e1e1e" style="stroke:#1e1e1e;stroke-width:0.3px">NT+HL60</text>
<text transform="translate(244.55,264.3) rotate(-45)" font-size="8.8" text-anchor="end" fill="#1e1e1e" style="stroke:#1e1e1e;stroke-width:0.3px">NT+HL60</text>
<text transform="translate(258.6,264.3) rotate(-45)" font-size="8.8" text-anchor="end" fill="#1e1e1e" style="stroke:#1e1e1e;stroke-width:0.3px">CD16+HL60</text>
<text transform="translate(272.65,264.3) rotate(-45)" font-size="8.8" text-anchor="end" fill="#1e1e1e" style="stroke:#1e1e1e;stroke-width:0.3px">CD16+HL60</text>
<text transform="translate(286.7,264.3) rotate(-45)" font-size="8.8" text-anchor="end" fill="#1e1e1e" style="stroke:#1e1e1e;stroke-width:0.3px">IL15+HL60</text>
<text transform="translate(300.75,264.3) rotate(-45)" font-size="8.8" text-anchor="end" fill="#1e1e1e" style="stroke:#1e1e1e;stroke-width:0.3px">IL15+HL60</text>
<text transform="translate(314.8,264.3) rotate(-45)" font-size="8.8" text-anchor="end" fill="#1e1e1e" style="stroke:#1e1e1e;stroke-width:0.3px">161533+HL60</text>
<text transform="translate(328.85,264.3) rotate(-45)" font-size="8.8" text-anchor="end" fill="#1e1e1e" style="stroke:#1e1e1e;stroke-width:0.3px">161533+HL60</text>
<line x1="400.3" y1="178" x2="400.3" y2="254.8" stroke="#1a1a1a" stroke-width="1.5"/>
<line x1="396.9" y1="254.2" x2="400.3" y2="254.2" stroke="#1a1a1a" stroke-width="1.2"/>
<text x="393.5" y="257.1" font-size="8.2" text-anchor="end" fill="#303030" font-weight="normal" style="stroke:#303030;stroke-width:0.1px">0</text>
<line x1="396.9" y1="239.6" x2="400.3" y2="239.6" stroke="#1a1a1a" stroke-width="1.2"/>
<text x="393.5" y="242.5" font-size="8.2" text-anchor="end" fill="#303030" font-weight="normal" style="stroke:#303030;stroke-width:0.1px">10</text>
<line x1="396.9" y1="225" x2="400.3" y2="225" stroke="#1a1a1a" stroke-width="1.2"/>
<text x="393.5" y="227.9" font-size="8.2" text-anchor="end" fill="#303030" font-weight="normal" style="stroke:#303030;stroke-width:0.1px">20</text>
<line x1="396.9" y1="210.4" x2="400.3" y2="210.4" stroke="#1a1a1a" stroke-width="1.2"/>
<text x="393.5" y="213.3" font-size="8.2" text-anchor="end" fill="#303030" font-weight="normal" style="stroke:#303030;stroke-width:0.1px">30</text>
<line x1="396.9" y1="195.8" x2="400.3" y2="195.8" stroke="#1a1a1a" stroke-width="1.2"/>
<text x="393.5" y="198.7" font-size="8.2" text-anchor="end" fill="#303030" font-weight="normal" style="stroke:#303030;stroke-width:0.1px">40</text>
<line x1="396.9" y1="181.2" x2="400.3" y2="181.2" stroke="#1a1a1a" stroke-width="1.2"/>
<text x="393.5" y="184.1" font-size="8.2" text-anchor="end" fill="#303030" font-weight="normal" style="stroke:#303030;stroke-width:0.1px">50</text>
<text transform="translate(378.42,216.5) rotate(-90)" font-size="8.4" text-anchor="middle" fill="#222" style="stroke:#1e1e1e;stroke-width:0.42px" textLength="63" lengthAdjust="spacingAndGlyphs">% CD107a+ NK cells</text>
<line x1="420" y1="191.9" x2="501.5" y2="191.9" stroke="#1a1a1a" stroke-width="1.4"/>
<line x1="420" y1="191.2" x2="420" y2="227.3" stroke="#1a1a1a" stroke-width="1.4"/>
<rect x="459.95" y="188.45" width="1.7" height="1.7" fill="#222"/>
<line x1="447.3" y1="197" x2="501.5" y2="197" stroke="#1a1a1a" stroke-width="1.4"/>
<line x1="447.3" y1="196.3" x2="447.3" y2="231.2" stroke="#1a1a1a" stroke-width="1.4"/>
<rect x="474.95" y="193.55" width="1.7" height="1.7" fill="#222"/>
<line x1="474.5" y1="201.6" x2="501.5" y2="201.6" stroke="#1a1a1a" stroke-width="1.4"/>
<line x1="474.5" y1="200.9" x2="474.5" y2="228" stroke="#1a1a1a" stroke-width="1.4"/>
<rect x="487.35" y="198.15" width="1.7" height="1.7" fill="#222"/>
<line x1="406.8" y1="210.7" x2="489" y2="210.7" stroke="#1a1a1a" stroke-width="1.4"/>
<line x1="406.8" y1="210" x2="406.8" y2="236.5" stroke="#1a1a1a" stroke-width="1.4"/>
<rect x="443.75" y="207.25" width="1.7" height="1.7" fill="#222"/>
<line x1="434.5" y1="215.8" x2="489" y2="215.8" stroke="#1a1a1a" stroke-width="1.4"/>
<line x1="434.5" y1="215.1" x2="434.5" y2="239.6" stroke="#1a1a1a" stroke-width="1.4"/>
<rect x="462" y="212.35" width="1.7" height="1.7" fill="#222"/>
<rect x="464.7" y="212.35" width="1.7" height="1.7" fill="#222"/>
<line x1="460.7" y1="219.6" x2="489" y2="219.6" stroke="#1a1a1a" stroke-width="1.4"/>
<line x1="460.7" y1="218.9" x2="460.7" y2="237.3" stroke="#1a1a1a" stroke-width="1.4"/>
<rect x="478.05" y="216.15" width="1.7" height="1.7" fill="#222"/>
<line x1="501.5" y1="191.2" x2="501.5" y2="205" stroke="#1a1a1a" stroke-width="1.4"/>
<line x1="489" y1="210" x2="489" y2="222" stroke="#1a1a1a" stroke-width="1.4"/>
<line x1="399.6" y1="254.2" x2="508.5" y2="254.2" stroke="#1a1a1a" stroke-width="1.6"/>
<line x1="407" y1="245.73" x2="407" y2="246.96" stroke="#1a1a1a" stroke-width="1.45"/>
<line x1="404.7" y1="245.73" x2="409.3" y2="245.73" stroke="#1a1a1a" stroke-width="1.45"/>
<rect x="402.4" y="246.46" width="9.2" height="7.74" fill="#bb002d" stroke="#000" stroke-opacity="0.28" stroke-width="0.6"/>
<line x1="407" y1="254.2" x2="407" y2="257.2" stroke="#1a1a1a" stroke-width="1.1"/>
<line x1="420.57" y1="239.6" x2="420.57" y2="244.77" stroke="#1a1a1a" stroke-width="1.45"/>
<line x1="418.27" y1="239.6" x2="422.87" y2="239.6" stroke="#1a1a1a" stroke-width="1.45"/>
<rect x="415.97" y="244.27" width="9.2" height="9.93" fill="#2d4b8a" stroke="#000" stroke-opacity="0.28" stroke-width="0.6"/>
<line x1="420.57" y1="254.2" x2="420.57" y2="257.2" stroke="#1a1a1a" stroke-width="1.1"/>
<line x1="434.14" y1="246.17" x2="434.14" y2="247.4" stroke="#1a1a1a" stroke-width="1.45"/>
<line x1="431.84" y1="246.17" x2="436.44" y2="246.17" stroke="#1a1a1a" stroke-width="1.45"/>
<rect x="429.54" y="246.9" width="9.2" height="7.3" fill="#bb002d" stroke="#000" stroke-opacity="0.28" stroke-width="0.6"/>
<line x1="434.14" y1="254.2" x2="434.14" y2="257.2" stroke="#1a1a1a" stroke-width="1.1"/>
<line x1="447.71" y1="244.56" x2="447.71" y2="247.84" stroke="#1a1a1a" stroke-width="1.45"/>
<line x1="445.41" y1="244.56" x2="450.01" y2="244.56" stroke="#1a1a1a" stroke-width="1.45"/>
<rect x="443.11" y="247.34" width="9.2" height="6.86" fill="#2d4b8a" stroke="#000" stroke-opacity="0.28" stroke-width="0.6"/>
<line x1="447.71" y1="254.2" x2="447.71" y2="257.2" stroke="#1a1a1a" stroke-width="1.1"/>
<line x1="461.28" y1="244.71" x2="461.28" y2="245.79" stroke="#1a1a1a" stroke-width="1.45"/>
<line x1="458.98" y1="244.71" x2="463.58" y2="244.71" stroke="#1a1a1a" stroke-width="1.45"/>
<rect x="456.68" y="245.29" width="9.2" height="8.91" fill="#bb002d" stroke="#000" stroke-opacity="0.28" stroke-width="0.6"/>
<line x1="461.28" y1="254.2" x2="461.28" y2="257.2" stroke="#1a1a1a" stroke-width="1.1"/>
<line x1="474.85" y1="240.33" x2="474.85" y2="243.46" stroke="#1a1a1a" stroke-width="1.45"/>
<line x1="472.55" y1="240.33" x2="477.15" y2="240.33" stroke="#1a1a1a" stroke-width="1.45"/>
<rect x="470.25" y="242.96" width="9.2" height="11.24" fill="#2d4b8a" stroke="#000" stroke-opacity="0.28" stroke-width="0.6"/>
<line x1="474.85" y1="254.2" x2="474.85" y2="257.2" stroke="#1a1a1a" stroke-width="1.1"/>
<line x1="488.42" y1="227.34" x2="488.42" y2="231.63" stroke="#1a1a1a" stroke-width="1.45"/>
<line x1="486.12" y1="227.34" x2="490.72" y2="227.34" stroke="#1a1a1a" stroke-width="1.45"/>
<rect x="483.82" y="231.13" width="9.2" height="23.07" fill="#bb002d" stroke="#000" stroke-opacity="0.28" stroke-width="0.6"/>
<line x1="488.42" y1="254.2" x2="488.42" y2="257.2" stroke="#1a1a1a" stroke-width="1.1"/>
<line x1="501.99" y1="218.43" x2="501.99" y2="221.12" stroke="#1a1a1a" stroke-width="1.45"/>
<line x1="499.69" y1="218.43" x2="504.29" y2="218.43" stroke="#1a1a1a" stroke-width="1.45"/>
<rect x="497.39" y="220.62" width="9.2" height="33.58" fill="#2d4b8a" stroke="#000" stroke-opacity="0.28" stroke-width="0.6"/>
<line x1="501.99" y1="254.2" x2="501.99" y2="257.2" stroke="#1a1a1a" stroke-width="1.1"/>
<text transform="translate(410.2,265.8) rotate(-45)" font-size="8.8" text-anchor="end" fill="#1e1e1e" style="stroke:#1e1e1e;stroke-width:0.3px"><tspan font-size="8.5">NT+ROSA</tspan><tspan font-size="5.9" dx="0.6" dy="-4.0">KIT D816V</tspan></text>
<text transform="translate(423.77,265.8) rotate(-45)" font-size="8.8" text-anchor="end" fill="#1e1e1e" style="stroke:#1e1e1e;stroke-width:0.3px"><tspan font-size="8.5">NT+ROSA</tspan><tspan font-size="5.9" dx="0.6" dy="-4.0">KIT D816V</tspan></text>
<text transform="translate(437.34,265.8) rotate(-45)" font-size="8.8" text-anchor="end" fill="#1e1e1e" style="stroke:#1e1e1e;stroke-width:0.3px"><tspan font-size="8.5">CD16+ROSA</tspan><tspan font-size="5.9" dx="0.6" dy="-4.0">KIT D816V</tspan></text>
<text transform="translate(450.91,265.8) rotate(-45)" font-size="8.8" text-anchor="end" fill="#1e1e1e" style="stroke:#1e1e1e;stroke-width:0.3px"><tspan font-size="8.5">CD16+ROSA</tspan><tspan font-size="5.9" dx="0.6" dy="-4.0">KIT D816V</tspan></text>
<text transform="translate(464.48,265.8) rotate(-45)" font-size="8.8" text-anchor="end" fill="#1e1e1e" style="stroke:#1e1e1e;stroke-width:0.3px"><tspan font-size="8.5">IL15+ROSA</tspan><tspan font-size="5.9" dx="0.6" dy="-4.0">KIT D816V</tspan></text>
<text transform="translate(478.05,265.8) rotate(-45)" font-size="8.8" text-anchor="end" fill="#1e1e1e" style="stroke:#1e1e1e;stroke-width:0.3px"><tspan font-size="8.5">IL15+ROSA</tspan><tspan font-size="5.9" dx="0.6" dy="-4.0">KIT D816V</tspan></text>
<text transform="translate(491.62,265.8) rotate(-45)" font-size="8.8" text-anchor="end" fill="#1e1e1e" style="stroke:#1e1e1e;stroke-width:0.3px"><tspan font-size="8.5">161533+ROSA</tspan><tspan font-size="5.9" dx="0.6" dy="-4.0">KIT D816V</tspan></text>
<text transform="translate(505.19,265.8) rotate(-45)" font-size="8.8" text-anchor="end" fill="#1e1e1e" style="stroke:#1e1e1e;stroke-width:0.3px"><tspan font-size="8.5">161533+ROSA</tspan><tspan font-size="5.9" dx="0.6" dy="-4.0">KIT D816V</tspan></text>
<rect x="371.2" y="159.3" width="14.1" height="8.8" fill="#bb002d"/>
<text x="388.4" y="166.4" font-size="8.4" text-anchor="start" fill="#222" font-weight="normal" textLength="50.4" lengthAdjust="spacingAndGlyphs">Normal Donors</text>
<rect x="446.2" y="159.3" width="13.8" height="8.8" fill="#2d4b8a"/>
<text x="463.4" y="166.4" font-size="8.4" text-anchor="start" fill="#222" font-weight="normal" textLength="40.4" lengthAdjust="spacingAndGlyphs">SM Patients</text>
<line x1="51.6" y1="346" x2="51.6" y2="430.4" stroke="#1a1a1a" stroke-width="1.5"/>
<line x1="48.2" y1="429.8" x2="51.6" y2="429.8" stroke="#1a1a1a" stroke-width="1.2"/>
<text x="45.4" y="432.7" font-size="8.2" text-anchor="end" fill="#303030" font-weight="normal" style="stroke:#303030;stroke-width:0.1px">0</text>
<line x1="48.2" y1="402.8" x2="51.6" y2="402.8" stroke="#1a1a1a" stroke-width="1.2"/>
<text x="45.4" y="405.7" font-size="8.2" text-anchor="end" fill="#303030" font-weight="normal" style="stroke:#303030;stroke-width:0.1px">5</text>
<line x1="48.2" y1="375.8" x2="51.6" y2="375.8" stroke="#1a1a1a" stroke-width="1.2"/>
<text x="45.4" y="378.7" font-size="8.2" text-anchor="end" fill="#303030" font-weight="normal" style="stroke:#303030;stroke-width:0.1px">10</text>
<line x1="48.2" y1="348.8" x2="51.6" y2="348.8" stroke="#1a1a1a" stroke-width="1.2"/>
<text x="45.4" y="351.7" font-size="8.2" text-anchor="end" fill="#303030" font-weight="normal" style="stroke:#303030;stroke-width:0.1px">15</text>
<text transform="translate(28.12,388) rotate(-90)" font-size="8.4" text-anchor="middle" fill="#222" style="stroke:#1e1e1e;stroke-width:0.42px" textLength="56" lengthAdjust="spacingAndGlyphs">% IFNγ+ NK cells</text>
<line x1="50.9" y1="429.8" x2="174" y2="429.8" stroke="#1a1a1a" stroke-width="1.6"/>
<line x1="67.3" y1="426.83" x2="67.3" y2="428.3" stroke="#1a1a1a" stroke-width="1.45"/>
<line x1="62.3" y1="426.83" x2="72.3" y2="426.83" stroke="#1a1a1a" stroke-width="1.45"/>
<rect x="57.3" y="427.8" width="20" height="2" fill="#bb002d" stroke="#000" stroke-opacity="0.28" stroke-width="0.6"/>
<line x1="67.3" y1="429.8" x2="67.3" y2="432.8" stroke="#1a1a1a" stroke-width="1.1"/>
<line x1="97.3" y1="428.18" x2="97.3" y2="428.95" stroke="#1a1a1a" stroke-width="1.45"/>
<line x1="92.3" y1="428.18" x2="102.3" y2="428.18" stroke="#1a1a1a" stroke-width="1.45"/>
<rect x="87.3" y="428.45" width="20" height="1.35" fill="#2d4b8a" stroke="#000" stroke-opacity="0.28" stroke-width="0.6"/>
<line x1="97.3" y1="429.8" x2="97.3" y2="432.8" stroke="#1a1a1a" stroke-width="1.1"/>
<line x1="128.4" y1="403.34" x2="128.4" y2="411.94" stroke="#1a1a1a" stroke-width="1.45"/>
<line x1="123.4" y1="403.34" x2="133.4" y2="403.34" stroke="#1a1a1a" stroke-width="1.45"/>
<rect x="118.4" y="411.44" width="20" height="18.36" fill="#bb002d" stroke="#000" stroke-opacity="0.28" stroke-width="0.6"/>
<line x1="128.4" y1="429.8" x2="128.4" y2="432.8" stroke="#1a1a1a" stroke-width="1.1"/>
<line x1="158.9" y1="407.12" x2="158.9" y2="416.26" stroke="#1a1a1a" stroke-width="1.45"/>
<line x1="153.9" y1="407.12" x2="163.9" y2="407.12" stroke="#1a1a1a" stroke-width="1.45"/>
<rect x="148.9" y="415.76" width="20" height="14.04" fill="#2d4b8a" stroke="#000" stroke-opacity="0.28" stroke-width="0.6"/>
<line x1="158.9" y1="429.8" x2="158.9" y2="432.8" stroke="#1a1a1a" stroke-width="1.1"/>
<text transform="translate(69.7,441) rotate(-45)" font-size="8.8" text-anchor="end" fill="#1e1e1e" style="stroke:#1e1e1e;stroke-width:0.3px">NT</text>
<text transform="translate(99.7,441) rotate(-45)" font-size="8.8" text-anchor="end" fill="#1e1e1e" style="stroke:#1e1e1e;stroke-width:0.3px">NT</text>
<text transform="translate(130.8,441) rotate(-45)" font-size="8.8" text-anchor="end" fill="#1e1e1e" style="stroke:#1e1e1e;stroke-width:0.3px">+K562</text>
<text transform="translate(161.3,441) rotate(-45)" font-size="8.8" text-anchor="end" fill="#1e1e1e" style="stroke:#1e1e1e;stroke-width:0.3px">+K562</text>
<line x1="221.5" y1="350.5" x2="221.5" y2="430.6" stroke="#1a1a1a" stroke-width="1.5"/>
<line x1="218.1" y1="430" x2="221.5" y2="430" stroke="#1a1a1a" stroke-width="1.2"/>
<text x="214.6" y="432.9" font-size="8.2" text-anchor="end" fill="#303030" font-weight="normal" style="stroke:#303030;stroke-width:0.1px">0</text>
<line x1="218.1" y1="404.5" x2="221.5" y2="404.5" stroke="#1a1a1a" stroke-width="1.2"/>
<text x="214.6" y="407.4" font-size="8.2" text-anchor="end" fill="#303030" font-weight="normal" style="stroke:#303030;stroke-width:0.1px">5</text>
<line x1="218.1" y1="379" x2="221.5" y2="379" stroke="#1a1a1a" stroke-width="1.2"/>
<text x="214.6" y="381.9" font-size="8.2" text-anchor="end" fill="#303030" font-weight="normal" style="stroke:#303030;stroke-width:0.1px">10</text>
<line x1="218.1" y1="353.5" x2="221.5" y2="353.5" stroke="#1a1a1a" stroke-width="1.2"/>
<text x="214.6" y="356.4" font-size="8.2" text-anchor="end" fill="#303030" font-weight="normal" style="stroke:#303030;stroke-width:0.1px">15</text>
<text transform="translate(198.7,390.4) rotate(-90)" font-size="8.6" text-anchor="middle" fill="#222" style="stroke:#1e1e1e;stroke-width:0.42px" textLength="56.5" lengthAdjust="spacingAndGlyphs">% IFNγ+ NK cells</text>
<line x1="243.1" y1="347" x2="329.6" y2="347" stroke="#1a1a1a" stroke-width="1.4"/>
<line x1="243.1" y1="346.3" x2="243.1" y2="413" stroke="#1a1a1a" stroke-width="1.4"/>
<rect x="282.65" y="343.55" width="1.7" height="1.7" fill="#222"/>
<line x1="229.5" y1="359.2" x2="314.8" y2="359.2" stroke="#1a1a1a" stroke-width="1.4"/>
<line x1="229.5" y1="358.5" x2="229.5" y2="413" stroke="#1a1a1a" stroke-width="1.4"/>
<rect x="268.75" y="355.75" width="1.7" height="1.7" fill="#222"/>
<line x1="258.1" y1="364.6" x2="314.8" y2="364.6" stroke="#1a1a1a" stroke-width="1.4"/>
<line x1="258.1" y1="363.9" x2="258.1" y2="413" stroke="#1a1a1a" stroke-width="1.4"/>
<rect x="285.65" y="361.15" width="1.7" height="1.7" fill="#222"/>
<line x1="285.9" y1="368.8" x2="314.8" y2="368.8" stroke="#1a1a1a" stroke-width="1.4"/>
<line x1="285.9" y1="368.1" x2="285.9" y2="409.5" stroke="#1a1a1a" stroke-width="1.4"/>
<rect x="299.85" y="365.35" width="1.7" height="1.7" fill="#222"/>
<line x1="329.6" y1="346.3" x2="329.6" y2="358.2" stroke="#1a1a1a" stroke-width="1.4"/>
<line x1="314.8" y1="358.5" x2="314.8" y2="372.3" stroke="#1a1a1a" stroke-width="1.4"/>
<line x1="220.8" y1="430" x2="336.7" y2="430" stroke="#1a1a1a" stroke-width="1.6"/>
<line x1="228.8" y1="426.43" x2="228.8" y2="427.95" stroke="#1a1a1a" stroke-width="1.45"/>
<line x1="226.45" y1="426.43" x2="231.15" y2="426.43" stroke="#1a1a1a" stroke-width="1.45"/>
<rect x="224.1" y="427.45" width="9.4" height="2.55" fill="#bb002d" stroke="#000" stroke-opacity="0.28" stroke-width="0.6"/>
<line x1="228.8" y1="430" x2="228.8" y2="433" stroke="#1a1a1a" stroke-width="1.1"/>
<line x1="243.15" y1="425.41" x2="243.15" y2="428.46" stroke="#1a1a1a" stroke-width="1.45"/>
<line x1="240.8" y1="425.41" x2="245.5" y2="425.41" stroke="#1a1a1a" stroke-width="1.45"/>
<rect x="238.45" y="427.96" width="9.4" height="2.04" fill="#2d4b8a" stroke="#000" stroke-opacity="0.28" stroke-width="0.6"/>
<line x1="243.15" y1="430" x2="243.15" y2="433" stroke="#1a1a1a" stroke-width="1.1"/>
<line x1="257.5" y1="425.92" x2="257.5" y2="427.69" stroke="#1a1a1a" stroke-width="1.45"/>
<line x1="255.15" y1="425.92" x2="259.85" y2="425.92" stroke="#1a1a1a" stroke-width="1.45"/>
<rect x="252.8" y="427.19" width="9.4" height="2.81" fill="#bb002d" stroke="#000" stroke-opacity="0.28" stroke-width="0.6"/>
<line x1="257.5" y1="430" x2="257.5" y2="433" stroke="#1a1a1a" stroke-width="1.1"/>
<line x1="271.85" y1="422.35" x2="271.85" y2="424.89" stroke="#1a1a1a" stroke-width="1.45"/>
<line x1="269.5" y1="422.35" x2="274.2" y2="422.35" stroke="#1a1a1a" stroke-width="1.45"/>
<rect x="267.15" y="424.39" width="9.4" height="5.61" fill="#2d4b8a" stroke="#000" stroke-opacity="0.28" stroke-width="0.6"/>
<line x1="271.85" y1="430" x2="271.85" y2="433" stroke="#1a1a1a" stroke-width="1.1"/>
<line x1="286.2" y1="414.19" x2="286.2" y2="417.75" stroke="#1a1a1a" stroke-width="1.45"/>
<line x1="283.85" y1="414.19" x2="288.55" y2="414.19" stroke="#1a1a1a" stroke-width="1.45"/>
<rect x="281.5" y="417.25" width="9.4" height="12.75" fill="#bb002d" stroke="#000" stroke-opacity="0.28" stroke-width="0.6"/>
<line x1="286.2" y1="430" x2="286.2" y2="433" stroke="#1a1a1a" stroke-width="1.1"/>
<line x1="300.55" y1="411.13" x2="300.55" y2="417.24" stroke="#1a1a1a" stroke-width="1.45"/>
<line x1="298.2" y1="411.13" x2="302.9" y2="411.13" stroke="#1a1a1a" stroke-width="1.45"/>
<rect x="295.85" y="416.74" width="9.4" height="13.26" fill="#2d4b8a" stroke="#000" stroke-opacity="0.28" stroke-width="0.6"/>
<line x1="300.55" y1="430" x2="300.55" y2="433" stroke="#1a1a1a" stroke-width="1.1"/>
<line x1="314.9" y1="374.92" x2="314.9" y2="387.92" stroke="#1a1a1a" stroke-width="1.45"/>
<line x1="312.55" y1="374.92" x2="317.25" y2="374.92" stroke="#1a1a1a" stroke-width="1.45"/>
<rect x="310.2" y="387.42" width="9.4" height="42.58" fill="#bb002d" stroke="#000" stroke-opacity="0.28" stroke-width="0.6"/>
<line x1="314.9" y1="430" x2="314.9" y2="433" stroke="#1a1a1a" stroke-width="1.1"/>
<line x1="329.25" y1="362.17" x2="329.25" y2="377.72" stroke="#1a1a1a" stroke-width="1.45"/>
<line x1="326.9" y1="362.17" x2="331.6" y2="362.17" stroke="#1a1a1a" stroke-width="1.45"/>
<rect x="324.55" y="377.22" width="9.4" height="52.78" fill="#2d4b8a" stroke="#000" stroke-opacity="0.28" stroke-width="0.6"/>
<line x1="329.25" y1="430" x2="329.25" y2="433" stroke="#1a1a1a" stroke-width="1.1"/>
<text transform="translate(231.2,440.2) rotate(-45)" font-size="8.8" text-anchor="end" fill="#1e1e1e" style="stroke:#1e1e1e;stroke-width:0.3px">NT+HL60</text>
<text transform="translate(245.55,440.2) rotate(-45)" font-size="8.8" text-anchor="end" fill="#1e1e1e" style="stroke:#1e1e1e;stroke-width:0.3px">NT+HL60</text>
<text transform="translate(259.9,440.2) rotate(-45)" font-size="8.8" text-anchor="end" fill="#1e1e1e" style="stroke:#1e1e1e;stroke-width:0.3px">CD16+HL60</text>
<text transform="translate(274.25,440.2) rotate(-45)" font-size="8.8" text-anchor="end" fill="#1e1e1e" style="stroke:#1e1e1e;stroke-width:0.3px">CD16+HL60</text>
<text transform="translate(288.6,440.2) rotate(-45)" font-size="8.8" text-anchor="end" fill="#1e1e1e" style="stroke:#1e1e1e;stroke-width:0.3px">IL15+HL60</text>
<text transform="translate(302.95,440.2) rotate(-45)" font-size="8.8" text-anchor="end" fill="#1e1e1e" style="stroke:#1e1e1e;stroke-width:0.3px">IL15+HL60</text>
<text transform="translate(317.3,440.2) rotate(-45)" font-size="8.8" text-anchor="end" fill="#1e1e1e" style="stroke:#1e1e1e;stroke-width:0.3px">161533+HL60</text>
<text transform="translate(331.65,440.2) rotate(-45)" font-size="8.8" text-anchor="end" fill="#1e1e1e" style="stroke:#1e1e1e;stroke-width:0.3px">161533+HL60</text>
<line x1="400.5" y1="352.5" x2="400.5" y2="430.6" stroke="#1a1a1a" stroke-width="1.5"/>
<line x1="397.1" y1="430" x2="400.5" y2="430" stroke="#1a1a1a" stroke-width="1.2"/>
<text x="394.1" y="432.9" font-size="8.2" text-anchor="end" fill="#303030" font-weight="normal" style="stroke:#303030;stroke-width:0.1px">0</text>
<line x1="397.1" y1="405" x2="400.5" y2="405" stroke="#1a1a1a" stroke-width="1.2"/>
<text x="394.1" y="407.9" font-size="8.2" text-anchor="end" fill="#303030" font-weight="normal" style="stroke:#303030;stroke-width:0.1px">5</text>
<line x1="397.1" y1="380" x2="400.5" y2="380" stroke="#1a1a1a" stroke-width="1.2"/>
<text x="394.1" y="382.9" font-size="8.2" text-anchor="end" fill="#303030" font-weight="normal" style="stroke:#303030;stroke-width:0.1px">10</text>
<line x1="397.1" y1="355" x2="400.5" y2="355" stroke="#1a1a1a" stroke-width="1.2"/>
<text x="394.1" y="357.9" font-size="8.2" text-anchor="end" fill="#303030" font-weight="normal" style="stroke:#303030;stroke-width:0.1px">15</text>
<text transform="translate(377.42,390.5) rotate(-90)" font-size="8.4" text-anchor="middle" fill="#222" style="stroke:#1e1e1e;stroke-width:0.42px" textLength="56" lengthAdjust="spacingAndGlyphs">% IFNγ+ NK cells</text>
<line x1="407.6" y1="384.1" x2="490.8" y2="384.1" stroke="#1a1a1a" stroke-width="1.4"/>
<line x1="407.6" y1="383.4" x2="407.6" y2="424" stroke="#1a1a1a" stroke-width="1.4"/>
<rect x="446.45" y="380.65" width="1.7" height="1.7" fill="#222"/>
<line x1="435.3" y1="389.7" x2="490.8" y2="389.7" stroke="#1a1a1a" stroke-width="1.4"/>
<line x1="435.3" y1="389" x2="435.3" y2="424" stroke="#1a1a1a" stroke-width="1.4"/>
<rect x="462.85" y="386.25" width="1.7" height="1.7" fill="#222"/>
<line x1="463.5" y1="394" x2="490.8" y2="394" stroke="#1a1a1a" stroke-width="1.4"/>
<line x1="463.5" y1="393.3" x2="463.5" y2="419.6" stroke="#1a1a1a" stroke-width="1.4"/>
<rect x="476.25" y="390.55" width="1.7" height="1.7" fill="#222"/>
<line x1="490.8" y1="383.4" x2="490.8" y2="397.1" stroke="#1a1a1a" stroke-width="1.4"/>
<line x1="399.8" y1="430" x2="512.7" y2="430" stroke="#1a1a1a" stroke-width="1.6"/>
<line x1="407.8" y1="428" x2="407.8" y2="429.25" stroke="#1a1a1a" stroke-width="1.45"/>
<line x1="405.45" y1="428" x2="410.15" y2="428" stroke="#1a1a1a" stroke-width="1.45"/>
<rect x="403.1" y="428.75" width="9.4" height="1.25" fill="#bb002d" stroke="#000" stroke-opacity="0.28" stroke-width="0.6"/>
<line x1="407.8" y1="430" x2="407.8" y2="433" stroke="#1a1a1a" stroke-width="1.1"/>
<line x1="421.8" y1="425.7" x2="421.8" y2="429.5" stroke="#1a1a1a" stroke-width="1.45"/>
<line x1="419.45" y1="425.7" x2="424.15" y2="425.7" stroke="#1a1a1a" stroke-width="1.45"/>
<rect x="417.1" y="429" width="9.4" height="1" fill="#2d4b8a" stroke="#000" stroke-opacity="0.28" stroke-width="0.6"/>
<line x1="421.8" y1="430" x2="421.8" y2="433" stroke="#1a1a1a" stroke-width="1.1"/>
<line x1="435.8" y1="428.5" x2="435.8" y2="429.5" stroke="#1a1a1a" stroke-width="1.45"/>
<line x1="433.45" y1="428.5" x2="438.15" y2="428.5" stroke="#1a1a1a" stroke-width="1.45"/>
<rect x="431.1" y="429" width="9.4" height="1" fill="#bb002d" stroke="#000" stroke-opacity="0.28" stroke-width="0.6"/>
<line x1="435.8" y1="430" x2="435.8" y2="433" stroke="#1a1a1a" stroke-width="1.1"/>
<line x1="449.8" y1="427.5" x2="449.8" y2="429" stroke="#1a1a1a" stroke-width="1.45"/>
<line x1="447.45" y1="427.5" x2="452.15" y2="427.5" stroke="#1a1a1a" stroke-width="1.45"/>
<rect x="445.1" y="428.5" width="9.4" height="1.5" fill="#2d4b8a" stroke="#000" stroke-opacity="0.28" stroke-width="0.6"/>
<line x1="449.8" y1="430" x2="449.8" y2="433" stroke="#1a1a1a" stroke-width="1.1"/>
<line x1="463.8" y1="426" x2="463.8" y2="426.75" stroke="#1a1a1a" stroke-width="1.45"/>
<line x1="461.45" y1="426" x2="466.15" y2="426" stroke="#1a1a1a" stroke-width="1.45"/>
<rect x="459.1" y="426.25" width="9.4" height="3.75" fill="#bb002d" stroke="#000" stroke-opacity="0.28" stroke-width="0.6"/>
<line x1="463.8" y1="430" x2="463.8" y2="433" stroke="#1a1a1a" stroke-width="1.1"/>
<line x1="477.8" y1="424.8" x2="477.8" y2="427.5" stroke="#1a1a1a" stroke-width="1.45"/>
<line x1="475.45" y1="424.8" x2="480.15" y2="424.8" stroke="#1a1a1a" stroke-width="1.45"/>
<rect x="473.1" y="427" width="9.4" height="3" fill="#2d4b8a" stroke="#000" stroke-opacity="0.28" stroke-width="0.6"/>
<line x1="477.8" y1="430" x2="477.8" y2="433" stroke="#1a1a1a" stroke-width="1.1"/>
<line x1="491.8" y1="403.25" x2="491.8" y2="409.5" stroke="#1a1a1a" stroke-width="1.45"/>
<line x1="489.45" y1="403.25" x2="494.15" y2="403.25" stroke="#1a1a1a" stroke-width="1.45"/>
<rect x="487.1" y="409" width="9.4" height="21" fill="#bb002d" stroke="#000" stroke-opacity="0.28" stroke-width="0.6"/>
<line x1="491.8" y1="430" x2="491.8" y2="433" stroke="#1a1a1a" stroke-width="1.1"/>
<line x1="505.8" y1="387" x2="505.8" y2="397" stroke="#1a1a1a" stroke-width="1.45"/>
<line x1="503.45" y1="387" x2="508.15" y2="387" stroke="#1a1a1a" stroke-width="1.45"/>
<rect x="501.1" y="396.5" width="9.4" height="33.5" fill="#2d4b8a" stroke="#000" stroke-opacity="0.28" stroke-width="0.6"/>
<line x1="505.8" y1="430" x2="505.8" y2="433" stroke="#1a1a1a" stroke-width="1.1"/>
<text transform="translate(411.6,443.1) rotate(-45)" font-size="8.8" text-anchor="end" fill="#1e1e1e" style="stroke:#1e1e1e;stroke-width:0.3px"><tspan font-size="8.3">NT+ROSA</tspan><tspan font-size="5.8" dx="0.6" dy="-4.0">KIT D816V</tspan></text>
<text transform="translate(425.6,443.1) rotate(-45)" font-size="8.8" text-anchor="end" fill="#1e1e1e" style="stroke:#1e1e1e;stroke-width:0.3px"><tspan font-size="8.3">NT+ROSA</tspan><tspan font-size="5.8" dx="0.6" dy="-4.0">KIT D816V</tspan></text>
<text transform="translate(439.6,443.1) rotate(-45)" font-size="8.8" text-anchor="end" fill="#1e1e1e" style="stroke:#1e1e1e;stroke-width:0.3px"><tspan font-size="8.3">CD16+ROSA</tspan><tspan font-size="5.8" dx="0.6" dy="-4.0">KIT D816V</tspan></text>
<text transform="translate(453.6,443.1) rotate(-45)" font-size="8.8" text-anchor="end" fill="#1e1e1e" style="stroke:#1e1e1e;stroke-width:0.3px"><tspan font-size="8.3">CD16+ROSA</tspan><tspan font-size="5.8" dx="0.6" dy="-4.0">KIT D816V</tspan></text>
<text transform="translate(467.6,443.1) rotate(-45)" font-size="8.8" text-anchor="end" fill="#1e1e1e" style="stroke:#1e1e1e;stroke-width:0.3px"><tspan font-size="8.3">IL15+ROSA</tspan><tspan font-size="5.8" dx="0.6" dy="-4.0">KIT D816V</tspan></text>
<text transform="translate(481.6,443.1) rotate(-45)" font-size="8.8" text-anchor="end" fill="#1e1e1e" style="stroke:#1e1e1e;stroke-width:0.3px"><tspan font-size="8.3">IL15+ROSA</tspan><tspan font-size="5.8" dx="0.6" dy="-4.0">KIT D816V</tspan></text>
<text transform="translate(495.6,443.1) rotate(-45)" font-size="8.8" text-anchor="end" fill="#1e1e1e" style="stroke:#1e1e1e;stroke-width:0.3px"><tspan font-size="8.3">161533+ROSA</tspan><tspan font-size="5.8" dx="0.6" dy="-4.0">KIT D816V</tspan></text>
<text transform="translate(509.6,443.1) rotate(-45)" font-size="8.8" text-anchor="end" fill="#1e1e1e" style="stroke:#1e1e1e;stroke-width:0.3px"><tspan font-size="8.3">161533+ROSA</tspan><tspan font-size="5.8" dx="0.6" dy="-4.0">KIT D816V</tspan></text>
<line x1="51.6" y1="517.3" x2="51.6" y2="602.1" stroke="#1a1a1a" stroke-width="1.5"/>
<line x1="48.2" y1="601.5" x2="51.6" y2="601.5" stroke="#1a1a1a" stroke-width="1.2"/>
<text x="44.7" y="604.4" font-size="8.2" text-anchor="end" fill="#303030" font-weight="normal" style="stroke:#303030;stroke-width:0.1px">0</text>
<line x1="48.2" y1="574.6" x2="51.6" y2="574.6" stroke="#1a1a1a" stroke-width="1.2"/>
<text x="44.7" y="577.5" font-size="8.2" text-anchor="end" fill="#303030" font-weight="normal" style="stroke:#303030;stroke-width:0.1px">10</text>
<line x1="48.2" y1="547.7" x2="51.6" y2="547.7" stroke="#1a1a1a" stroke-width="1.2"/>
<text x="44.7" y="550.6" font-size="8.2" text-anchor="end" fill="#303030" font-weight="normal" style="stroke:#303030;stroke-width:0.1px">20</text>
<line x1="48.2" y1="520.8" x2="51.6" y2="520.8" stroke="#1a1a1a" stroke-width="1.2"/>
<text x="44.7" y="523.7" font-size="8.2" text-anchor="end" fill="#303030" font-weight="normal" style="stroke:#303030;stroke-width:0.1px">30</text>
<text transform="translate(28.62,559.4) rotate(-90)" font-size="8.4" text-anchor="middle" fill="#222" style="stroke:#1e1e1e;stroke-width:0.42px" textLength="60.4" lengthAdjust="spacingAndGlyphs">% TNFα+ NK cells</text>
<line x1="50.9" y1="601.5" x2="173.75" y2="601.5" stroke="#1a1a1a" stroke-width="1.6"/>
<line x1="66.3" y1="601.1" x2="66.3" y2="601.68" stroke="#1a1a1a" stroke-width="1.45"/>
<line x1="61.3" y1="601.1" x2="71.3" y2="601.1" stroke="#1a1a1a" stroke-width="1.45"/>
<rect x="56.05" y="601.18" width="20.5" height="0.32" fill="#bb002d" stroke="#000" stroke-opacity="0.28" stroke-width="0.6"/>
<line x1="66.3" y1="601.5" x2="66.3" y2="604.5" stroke="#1a1a1a" stroke-width="1.1"/>
<rect x="87.05" y="601.34" width="20.5" height="0.16" fill="#2d4b8a" stroke="#000" stroke-opacity="0.28" stroke-width="0.6"/>
<line x1="97.3" y1="601.5" x2="97.3" y2="604.5" stroke="#1a1a1a" stroke-width="1.1"/>
<line x1="128.3" y1="569.22" x2="128.3" y2="577.79" stroke="#1a1a1a" stroke-width="1.45"/>
<line x1="123.3" y1="569.22" x2="133.3" y2="569.22" stroke="#1a1a1a" stroke-width="1.45"/>
<rect x="118.05" y="577.29" width="20.5" height="24.21" fill="#bb002d" stroke="#000" stroke-opacity="0.28" stroke-width="0.6"/>
<line x1="128.3" y1="601.5" x2="128.3" y2="604.5" stroke="#1a1a1a" stroke-width="1.1"/>
<line x1="158.8" y1="579.44" x2="158.8" y2="585.05" stroke="#1a1a1a" stroke-width="1.45"/>
<line x1="153.8" y1="579.44" x2="163.8" y2="579.44" stroke="#1a1a1a" stroke-width="1.45"/>
<rect x="148.55" y="584.55" width="20.5" height="16.95" fill="#2d4b8a" stroke="#000" stroke-opacity="0.28" stroke-width="0.6"/>
<line x1="158.8" y1="601.5" x2="158.8" y2="604.5" stroke="#1a1a1a" stroke-width="1.1"/>
<text transform="translate(69.2,612.2) rotate(-45)" font-size="8.8" text-anchor="end" fill="#1e1e1e" style="stroke:#1e1e1e;stroke-width:0.3px">NT</text>
<text transform="translate(100.2,612.2) rotate(-45)" font-size="8.8" text-anchor="end" fill="#1e1e1e" style="stroke:#1e1e1e;stroke-width:0.3px">NT</text>
<text transform="translate(131.2,612.2) rotate(-45)" font-size="8.8" text-anchor="end" fill="#1e1e1e" style="stroke:#1e1e1e;stroke-width:0.3px">+K562</text>
<text transform="translate(161.7,612.2) rotate(-45)" font-size="8.8" text-anchor="end" fill="#1e1e1e" style="stroke:#1e1e1e;stroke-width:0.3px">+K562</text>
<line x1="221.5" y1="522.4" x2="221.5" y2="602.1" stroke="#1a1a1a" stroke-width="1.5"/>
<line x1="218.1" y1="601.5" x2="221.5" y2="601.5" stroke="#1a1a1a" stroke-width="1.2"/>
<text x="215.8" y="604.4" font-size="8.2" text-anchor="end" fill="#303030" font-weight="normal" style="stroke:#303030;stroke-width:0.1px">0</text>
<line x1="218.1" y1="576.2" x2="221.5" y2="576.2" stroke="#1a1a1a" stroke-width="1.2"/>
<text x="215.8" y="579.1" font-size="8.2" text-anchor="end" fill="#303030" font-weight="normal" style="stroke:#303030;stroke-width:0.1px">10</text>
<line x1="218.1" y1="550.9" x2="221.5" y2="550.9" stroke="#1a1a1a" stroke-width="1.2"/>
<text x="215.8" y="553.8" font-size="8.2" text-anchor="end" fill="#303030" font-weight="normal" style="stroke:#303030;stroke-width:0.1px">20</text>
<line x1="218.1" y1="525.6" x2="221.5" y2="525.6" stroke="#1a1a1a" stroke-width="1.2"/>
<text x="215.8" y="528.5" font-size="8.2" text-anchor="end" fill="#303030" font-weight="normal" style="stroke:#303030;stroke-width:0.1px">30</text>
<text transform="translate(199.2,561.9) rotate(-90)" font-size="8.6" text-anchor="middle" fill="#222" style="stroke:#1e1e1e;stroke-width:0.42px" textLength="60" lengthAdjust="spacingAndGlyphs">% TNFα+ NK cells</text>
<line x1="229.6" y1="530.7" x2="314.8" y2="530.7" stroke="#1a1a1a" stroke-width="1.4"/>
<line x1="229.6" y1="530" x2="229.6" y2="585" stroke="#1a1a1a" stroke-width="1.4"/>
<rect x="268.85" y="527.25" width="1.7" height="1.7" fill="#222"/>
<line x1="258.1" y1="536.2" x2="314.8" y2="536.2" stroke="#1a1a1a" stroke-width="1.4"/>
<line x1="258.1" y1="535.5" x2="258.1" y2="583.9" stroke="#1a1a1a" stroke-width="1.4"/>
<rect x="285.65" y="532.75" width="1.7" height="1.7" fill="#222"/>
<line x1="286.2" y1="540.6" x2="314.8" y2="540.6" stroke="#1a1a1a" stroke-width="1.4"/>
<line x1="286.2" y1="539.9" x2="286.2" y2="581.6" stroke="#1a1a1a" stroke-width="1.4"/>
<rect x="300.05" y="537.15" width="1.7" height="1.7" fill="#222"/>
<line x1="314.8" y1="530" x2="314.8" y2="543" stroke="#1a1a1a" stroke-width="1.4"/>
<line x1="220.8" y1="601.5" x2="336" y2="601.5" stroke="#1a1a1a" stroke-width="1.6"/>
<line x1="229" y1="593.91" x2="229" y2="595.8" stroke="#1a1a1a" stroke-width="1.45"/>
<line x1="226.65" y1="593.91" x2="231.35" y2="593.91" stroke="#1a1a1a" stroke-width="1.45"/>
<rect x="224.3" y="595.3" width="9.4" height="6.2" fill="#bb002d" stroke="#000" stroke-opacity="0.28" stroke-width="0.6"/>
<line x1="229" y1="601.5" x2="229" y2="604.5" stroke="#1a1a1a" stroke-width="1.1"/>
<line x1="243.37" y1="589.36" x2="243.37" y2="593.65" stroke="#1a1a1a" stroke-width="1.45"/>
<line x1="241.02" y1="589.36" x2="245.72" y2="589.36" stroke="#1a1a1a" stroke-width="1.45"/>
<rect x="238.67" y="593.15" width="9.4" height="8.35" fill="#2d4b8a" stroke="#000" stroke-opacity="0.28" stroke-width="0.6"/>
<line x1="243.37" y1="601.5" x2="243.37" y2="604.5" stroke="#1a1a1a" stroke-width="1.1"/>
<line x1="257.74" y1="592.64" x2="257.74" y2="595.8" stroke="#1a1a1a" stroke-width="1.45"/>
<line x1="255.39" y1="592.64" x2="260.09" y2="592.64" stroke="#1a1a1a" stroke-width="1.45"/>
<rect x="253.04" y="595.3" width="9.4" height="6.2" fill="#bb002d" stroke="#000" stroke-opacity="0.28" stroke-width="0.6"/>
<line x1="257.74" y1="601.5" x2="257.74" y2="604.5" stroke="#1a1a1a" stroke-width="1.1"/>
<line x1="272.11" y1="589.86" x2="272.11" y2="594.79" stroke="#1a1a1a" stroke-width="1.45"/>
<line x1="269.76" y1="589.86" x2="274.46" y2="589.86" stroke="#1a1a1a" stroke-width="1.45"/>
<rect x="267.41" y="594.29" width="9.4" height="7.21" fill="#2d4b8a" stroke="#000" stroke-opacity="0.28" stroke-width="0.6"/>
<line x1="272.11" y1="601.5" x2="272.11" y2="604.5" stroke="#1a1a1a" stroke-width="1.1"/>
<line x1="286.48" y1="586.83" x2="286.48" y2="591.12" stroke="#1a1a1a" stroke-width="1.45"/>
<line x1="284.13" y1="586.83" x2="288.83" y2="586.83" stroke="#1a1a1a" stroke-width="1.45"/>
<rect x="281.78" y="590.62" width="9.4" height="10.88" fill="#bb002d" stroke="#000" stroke-opacity="0.28" stroke-width="0.6"/>
<line x1="286.48" y1="601.5" x2="286.48" y2="604.5" stroke="#1a1a1a" stroke-width="1.1"/>
<line x1="300.85" y1="582.27" x2="300.85" y2="588.59" stroke="#1a1a1a" stroke-width="1.45"/>
<line x1="298.5" y1="582.27" x2="303.2" y2="582.27" stroke="#1a1a1a" stroke-width="1.45"/>
<rect x="296.15" y="588.09" width="9.4" height="13.41" fill="#2d4b8a" stroke="#000" stroke-opacity="0.28" stroke-width="0.6"/>
<line x1="300.85" y1="601.5" x2="300.85" y2="604.5" stroke="#1a1a1a" stroke-width="1.1"/>
<line x1="315.22" y1="547.36" x2="315.22" y2="557.98" stroke="#1a1a1a" stroke-width="1.45"/>
<line x1="312.87" y1="547.36" x2="317.57" y2="547.36" stroke="#1a1a1a" stroke-width="1.45"/>
<rect x="310.52" y="557.48" width="9.4" height="44.02" fill="#bb002d" stroke="#000" stroke-opacity="0.28" stroke-width="0.6"/>
<line x1="315.22" y1="601.5" x2="315.22" y2="604.5" stroke="#1a1a1a" stroke-width="1.1"/>
<rect x="324.89" y="552.16" width="9.4" height="49.33" fill="#2d4b8a" stroke="#000" stroke-opacity="0.28" stroke-width="0.6"/>
<line x1="329.59" y1="601.5" x2="329.59" y2="604.5" stroke="#1a1a1a" stroke-width="1.1"/>
<text transform="translate(231.4,612.2) rotate(-45)" font-size="8.6" text-anchor="end" fill="#1e1e1e" style="stroke:#1e1e1e;stroke-width:0.3px">NT+HL60</text>
<text transform="translate(245.77,612.2) rotate(-45)" font-size="8.6" text-anchor="end" fill="#1e1e1e" style="stroke:#1e1e1e;stroke-width:0.3px">NT+HL60</text>
<text transform="translate(260.14,612.2) rotate(-45)" font-size="8.6" text-anchor="end" fill="#1e1e1e" style="stroke:#1e1e1e;stroke-width:0.3px">CD16+HL60</text>
<text transform="translate(274.51,612.2) rotate(-45)" font-size="8.6" text-anchor="end" fill="#1e1e1e" style="stroke:#1e1e1e;stroke-width:0.3px">CD16+HL60</text>
<text transform="translate(288.88,612.2) rotate(-45)" font-size="8.6" text-anchor="end" fill="#1e1e1e" style="stroke:#1e1e1e;stroke-width:0.3px">IL15+HL60</text>
<text transform="translate(303.25,612.2) rotate(-45)" font-size="8.6" text-anchor="end" fill="#1e1e1e" style="stroke:#1e1e1e;stroke-width:0.3px">IL15+HL60</text>
<text transform="translate(317.62,612.2) rotate(-45)" font-size="8.6" text-anchor="end" fill="#1e1e1e" style="stroke:#1e1e1e;stroke-width:0.3px">161533+HL60</text>
<text transform="translate(331.99,612.2) rotate(-45)" font-size="8.6" text-anchor="end" fill="#1e1e1e" style="stroke:#1e1e1e;stroke-width:0.3px">161533+HL60</text>
<line x1="400.3" y1="523.9" x2="400.3" y2="602.1" stroke="#1a1a1a" stroke-width="1.5"/>
<line x1="396.9" y1="601.5" x2="400.3" y2="601.5" stroke="#1a1a1a" stroke-width="1.2"/>
<text x="393.5" y="604.4" font-size="8.2" text-anchor="end" fill="#303030" font-weight="normal" style="stroke:#303030;stroke-width:0.1px">0</text>
<line x1="396.9" y1="576.5" x2="400.3" y2="576.5" stroke="#1a1a1a" stroke-width="1.2"/>
<text x="393.5" y="579.4" font-size="8.2" text-anchor="end" fill="#303030" font-weight="normal" style="stroke:#303030;stroke-width:0.1px">10</text>
<line x1="396.9" y1="551.5" x2="400.3" y2="551.5" stroke="#1a1a1a" stroke-width="1.2"/>
<text x="393.5" y="554.4" font-size="8.2" text-anchor="end" fill="#303030" font-weight="normal" style="stroke:#303030;stroke-width:0.1px">20</text>
<line x1="396.9" y1="526.5" x2="400.3" y2="526.5" stroke="#1a1a1a" stroke-width="1.2"/>
<text x="393.5" y="529.4" font-size="8.2" text-anchor="end" fill="#303030" font-weight="normal" style="stroke:#303030;stroke-width:0.1px">30</text>
<text transform="translate(378.42,562) rotate(-90)" font-size="8.4" text-anchor="middle" fill="#222" style="stroke:#1e1e1e;stroke-width:0.42px" textLength="60" lengthAdjust="spacingAndGlyphs">% TNFα+ NK cells</text>
<line x1="406.9" y1="567.4" x2="490.3" y2="567.4" stroke="#1a1a1a" stroke-width="1.4"/>
<line x1="406.9" y1="566.7" x2="406.9" y2="592.7" stroke="#1a1a1a" stroke-width="1.4"/>
<rect x="445.05" y="563.95" width="1.7" height="1.7" fill="#222"/>
<line x1="490.3" y1="566.7" x2="490.3" y2="576.3" stroke="#1a1a1a" stroke-width="1.4"/>
<line x1="399.6" y1="601.5" x2="511.3" y2="601.5" stroke="#1a1a1a" stroke-width="1.6"/>
<line x1="406.9" y1="599" x2="406.9" y2="599.75" stroke="#1a1a1a" stroke-width="1.45"/>
<line x1="404.6" y1="599" x2="409.2" y2="599" stroke="#1a1a1a" stroke-width="1.45"/>
<rect x="402.3" y="599.25" width="9.2" height="2.25" fill="#bb002d" stroke="#000" stroke-opacity="0.28" stroke-width="0.6"/>
<line x1="406.9" y1="601.5" x2="406.9" y2="604.5" stroke="#1a1a1a" stroke-width="1.1"/>
<line x1="420.8" y1="594.62" x2="420.8" y2="598.38" stroke="#1a1a1a" stroke-width="1.45"/>
<line x1="418.5" y1="594.62" x2="423.1" y2="594.62" stroke="#1a1a1a" stroke-width="1.45"/>
<rect x="416.2" y="597.88" width="9.2" height="3.62" fill="#2d4b8a" stroke="#000" stroke-opacity="0.28" stroke-width="0.6"/>
<line x1="420.8" y1="601.5" x2="420.8" y2="604.5" stroke="#1a1a1a" stroke-width="1.1"/>
<line x1="434.7" y1="600" x2="434.7" y2="600.75" stroke="#1a1a1a" stroke-width="1.45"/>
<line x1="432.4" y1="600" x2="437" y2="600" stroke="#1a1a1a" stroke-width="1.45"/>
<rect x="430.1" y="600.25" width="9.2" height="1.25" fill="#bb002d" stroke="#000" stroke-opacity="0.28" stroke-width="0.6"/>
<line x1="434.7" y1="601.5" x2="434.7" y2="604.5" stroke="#1a1a1a" stroke-width="1.1"/>
<line x1="448.6" y1="600" x2="448.6" y2="600.75" stroke="#1a1a1a" stroke-width="1.45"/>
<line x1="446.3" y1="600" x2="450.9" y2="600" stroke="#1a1a1a" stroke-width="1.45"/>
<rect x="444" y="600.25" width="9.2" height="1.25" fill="#2d4b8a" stroke="#000" stroke-opacity="0.28" stroke-width="0.6"/>
<line x1="448.6" y1="601.5" x2="448.6" y2="604.5" stroke="#1a1a1a" stroke-width="1.1"/>
<line x1="462.5" y1="598.75" x2="462.5" y2="599.5" stroke="#1a1a1a" stroke-width="1.45"/>
<line x1="460.2" y1="598.75" x2="464.8" y2="598.75" stroke="#1a1a1a" stroke-width="1.45"/>
<rect x="457.9" y="599" width="9.2" height="2.5" fill="#bb002d" stroke="#000" stroke-opacity="0.28" stroke-width="0.6"/>
<line x1="462.5" y1="601.5" x2="462.5" y2="604.5" stroke="#1a1a1a" stroke-width="1.1"/>
<line x1="476.4" y1="595.5" x2="476.4" y2="598.75" stroke="#1a1a1a" stroke-width="1.45"/>
<line x1="474.1" y1="595.5" x2="478.7" y2="595.5" stroke="#1a1a1a" stroke-width="1.45"/>
<rect x="471.8" y="598.25" width="9.2" height="3.25" fill="#2d4b8a" stroke="#000" stroke-opacity="0.28" stroke-width="0.6"/>
<line x1="476.4" y1="601.5" x2="476.4" y2="604.5" stroke="#1a1a1a" stroke-width="1.1"/>
<line x1="490.3" y1="582.25" x2="490.3" y2="587.5" stroke="#1a1a1a" stroke-width="1.45"/>
<line x1="488" y1="582.25" x2="492.6" y2="582.25" stroke="#1a1a1a" stroke-width="1.45"/>
<rect x="485.7" y="587" width="9.2" height="14.5" fill="#bb002d" stroke="#000" stroke-opacity="0.28" stroke-width="0.6"/>
<line x1="490.3" y1="601.5" x2="490.3" y2="604.5" stroke="#1a1a1a" stroke-width="1.1"/>
<line x1="504.2" y1="558.5" x2="504.2" y2="573.5" stroke="#1a1a1a" stroke-width="1.45"/>
<line x1="501.9" y1="558.5" x2="506.5" y2="558.5" stroke="#1a1a1a" stroke-width="1.45"/>
<rect x="499.6" y="573" width="9.2" height="28.5" fill="#2d4b8a" stroke="#000" stroke-opacity="0.28" stroke-width="0.6"/>
<line x1="504.2" y1="601.5" x2="504.2" y2="604.5" stroke="#1a1a1a" stroke-width="1.1"/>
<text transform="translate(410.3,614.3) rotate(-45)" font-size="8.8" text-anchor="end" fill="#1e1e1e" style="stroke:#1e1e1e;stroke-width:0.3px"><tspan font-size="8.3">NT+ROSA</tspan><tspan font-size="5.8" dx="0.6" dy="-4.0">KIT D816V</tspan></text>
<text transform="translate(424.2,614.3) rotate(-45)" font-size="8.8" text-anchor="end" fill="#1e1e1e" style="stroke:#1e1e1e;stroke-width:0.3px"><tspan font-size="8.3">NT+ROSA</tspan><tspan font-size="5.8" dx="0.6" dy="-4.0">KIT D816V</tspan></text>
<text transform="translate(438.1,614.3) rotate(-45)" font-size="8.8" text-anchor="end" fill="#1e1e1e" style="stroke:#1e1e1e;stroke-width:0.3px"><tspan font-size="8.3">CD16+ROSA</tspan><tspan font-size="5.8" dx="0.6" dy="-4.0">KIT D816V</tspan></text>
<text transform="translate(452,614.3) rotate(-45)" font-size="8.8" text-anchor="end" fill="#1e1e1e" style="stroke:#1e1e1e;stroke-width:0.3px"><tspan font-size="8.3">CD16+ROSA</tspan><tspan font-size="5.8" dx="0.6" dy="-4.0">KIT D816V</tspan></text>
<text transform="translate(465.9,614.3) rotate(-45)" font-size="8.8" text-anchor="end" fill="#1e1e1e" style="stroke:#1e1e1e;stroke-width:0.3px"><tspan font-size="8.3">IL15+ROSA</tspan><tspan font-size="5.8" dx="0.6" dy="-4.0">KIT D816V</tspan></text>
<text transform="translate(479.8,614.3) rotate(-45)" font-size="8.8" text-anchor="end" fill="#1e1e1e" style="stroke:#1e1e1e;stroke-width:0.3px"><tspan font-size="8.3">IL15+ROSA</tspan><tspan font-size="5.8" dx="0.6" dy="-4.0">KIT D816V</tspan></text>
<text transform="translate(493.7,614.3) rotate(-45)" font-size="8.8" text-anchor="end" fill="#1e1e1e" style="stroke:#1e1e1e;stroke-width:0.3px"><tspan font-size="8.3">161533+ROSA</tspan><tspan font-size="5.8" dx="0.6" dy="-4.0">KIT D816V</tspan></text>
<text transform="translate(507.6,614.3) rotate(-45)" font-size="8.8" text-anchor="end" fill="#1e1e1e" style="stroke:#1e1e1e;stroke-width:0.3px"><tspan font-size="8.3">161533+ROSA</tspan><tspan font-size="5.8" dx="0.6" dy="-4.0">KIT D816V</tspan></text>
</g>
</svg>
</body></html>
